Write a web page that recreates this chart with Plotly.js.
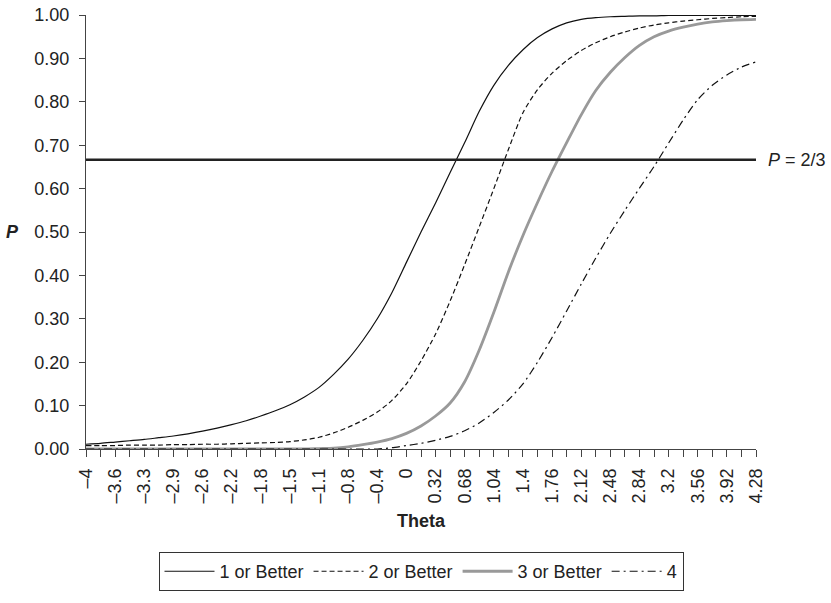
<!DOCTYPE html>
<html>
<head>
<meta charset="utf-8">
<script src="https://cdn.plot.ly/plotly-3.0.1.min.js"></script>
<style>
  html, body { margin: 0; padding: 0; background: #fff; }
  #chart { width: 831px; height: 603px; }
</style>
</head>
<body>
<div id="chart"></div>
<script>
// Theta categories (step 0.18)
var theta = [-4.00, -3.82, -3.64, -3.46, -3.28, -3.10, -2.92, -2.74, -2.56, -2.38,
             -2.20, -2.02, -1.84, -1.66, -1.48, -1.30, -1.12, -0.94, -0.76, -0.58,
             -0.40, -0.22, -0.04, 0.14, 0.32, 0.50, 0.68, 0.86, 1.04, 1.22,
             1.40, 1.58, 1.76, 1.94, 2.12, 2.30, 2.48, 2.66, 2.84, 3.02,
             3.20, 3.38, 3.56, 3.74, 3.92, 4.10, 4.28];

// Tick labels shown on every second category
var tickLabels = ["\u20134", "\u20133.6", "\u20133.3", "\u20132.9", "\u20132.6", "\u20132.2",
                  "\u20131.8", "\u20131.5", "\u20131.1", "\u20130.8", "\u20130.4", "0",
                  "0.32", "0.68", "1.04", "1.4", "1.76", "2.12", "2.48", "2.84",
                  "3.2", "3.56", "3.92", "4.28"];

var seriesNames = ["1 or Better", "2 or Better", "3 or Better", "4"];

var p1 = [0.011, 0.013, 0.016, 0.019, 0.022, 0.026, 0.030, 0.035, 0.041, 0.048,
          0.056, 0.065, 0.076, 0.088, 0.102, 0.120, 0.142, 0.172, 0.207, 0.250,
          0.300, 0.360, 0.430, 0.500, 0.567, 0.637, 0.706, 0.778, 0.838, 0.884,
          0.920, 0.948, 0.968, 0.982, 0.990, 0.994, 0.996, 0.997, 0.998, 0.998,
          0.999, 0.999, 0.999, 0.999, 0.999, 0.999, 0.999];

var p2 = [0.008, 0.008, 0.008, 0.009, 0.009, 0.009, 0.010, 0.010, 0.011, 0.011,
          0.012, 0.013, 0.014, 0.015, 0.017, 0.021, 0.027, 0.037, 0.050, 0.066,
          0.085, 0.112, 0.150, 0.203, 0.265, 0.341, 0.425, 0.512, 0.600, 0.690,
          0.775, 0.828, 0.866, 0.895, 0.918, 0.936, 0.950, 0.961, 0.970, 0.977,
          0.982, 0.986, 0.989, 0.992, 0.994, 0.996, 0.997];

var p3 = [0.000, 0.000, 0.000, 0.000, 0.000, 0.000, 0.000, 0.000, 0.000, 0.000,
          0.000, 0.000, 0.000, 0.000, 0.000, 0.000, 0.001, 0.002, 0.005, 0.010,
          0.016, 0.024, 0.036, 0.053, 0.076, 0.106, 0.155, 0.228, 0.315, 0.408,
          0.492, 0.568, 0.640, 0.706, 0.770, 0.826, 0.868, 0.902, 0.930, 0.950,
          0.963, 0.972, 0.979, 0.984, 0.987, 0.989, 0.990];

var p4 = [0.000, 0.000, 0.000, 0.000, 0.000, 0.000, 0.000, 0.000, 0.000, 0.000,
          0.000, 0.000, 0.000, 0.000, 0.000, 0.000, 0.000, 0.000, 0.000, 0.000,
          0.000, 0.003, 0.008, 0.013, 0.020, 0.029, 0.042, 0.060, 0.084, 0.113,
          0.150, 0.200, 0.257, 0.318, 0.380, 0.440, 0.497, 0.550, 0.601, 0.651,
          0.705, 0.758, 0.805, 0.838, 0.862, 0.880, 0.892];

var pRef = 2 / 3;
var refLabel = "<i>P</i> = 2/3";

// tick text: label on every second category, blank otherwise
var tickText = theta.map(function (t, i) { return (i % 2 === 0) ? tickLabels[i / 2] : ""; });

var FONT = "Liberation Sans, Arial, Helvetica, sans-serif";

var traces = [
  { x: theta, y: p1, name: seriesNames[0], type: "scatter", mode: "lines",
    line: { color: "#111111", width: 1.2, shape: "spline", smoothing: 0.7 } },
  { x: theta, y: p2, name: seriesNames[1], type: "scatter", mode: "lines",
    line: { color: "#111111", width: 1.2, dash: "5px,3px", shape: "spline", smoothing: 0.7 } },
  { x: theta, y: p3, name: seriesNames[2], type: "scatter", mode: "lines",
    line: { color: "#999999", width: 2.8, shape: "spline", smoothing: 0.7 } },
  { x: theta, y: p4, name: seriesNames[3], type: "scatter", mode: "lines",
    line: { color: "#111111", width: 1.2, dash: "8px,4px,2px,4px", shape: "spline", smoothing: 0.7 } },
  { x: [theta[0], theta[theta.length - 1]], y: [pRef, pRef], type: "scatter", mode: "lines",
    showlegend: false, hoverinfo: "skip",
    line: { color: "#222222", width: 2.5 } }
];

var layout = {
  width: 831, height: 603,
  margin: { l: 86, r: 75, t: 15, b: 140.3 },
  paper_bgcolor: "#ffffff", plot_bgcolor: "#ffffff",
  font: { family: FONT, size: 18, color: "#222222" },
  showlegend: true,
  xaxis: {
    range: [theta[0], theta[theta.length - 1]],
    tickmode: "array", tickvals: theta, ticktext: tickText,
    tickangle: -90,
    ticks: "outside", ticklen: 7, tickcolor: "#444444", tickwidth: 1,
    showline: true, linecolor: "#444444", linewidth: 1.2,
    showgrid: false, zeroline: false,
    tickfont: { family: FONT, size: 18, color: "#222222" },
    ticklabelstandoff: 4,
    title: { text: "<b>Theta</b>", font: { family: FONT, size: 18, color: "#222222" }, standoff: 12 }
  },
  yaxis: {
    range: [0, 1],
    tickmode: "linear", tick0: 0, dtick: 0.1, tickformat: ".2f",
    ticks: "outside", ticklen: 6, tickcolor: "#444444", tickwidth: 1,
    showline: true, linecolor: "#444444", linewidth: 1.2,
    showgrid: false, zeroline: false,
    tickfont: { family: FONT, size: 18, color: "#222222" },
    ticklabelstandoff: 6
  },
  legend: {
    orientation: "h", x: 0.5, xanchor: "center", y: -0.2374, yanchor: "top",
    bordercolor: "#333333", borderwidth: 1, bgcolor: "#ffffff",
    font: { family: FONT, size: 18, color: "#222222" },
    itemwidth: 50
  },
  annotations: [
    { xref: "paper", yref: "y", x: 1, y: pRef, xshift: 10, xanchor: "left", yanchor: "middle",
      text: refLabel, showarrow: false, font: { family: FONT, size: 18, color: "#222222" } },
    { xref: "paper", yref: "paper", x: -0.109, y: 0.5, xanchor: "center", yanchor: "middle",
      text: "<b><i>P</i></b>", showarrow: false, font: { family: FONT, size: 18, color: "#222222" } }
  ]
};

Plotly.newPlot("chart", traces, layout, { staticPlot: true, displayModeBar: false });
</script>
</body>
</html>
